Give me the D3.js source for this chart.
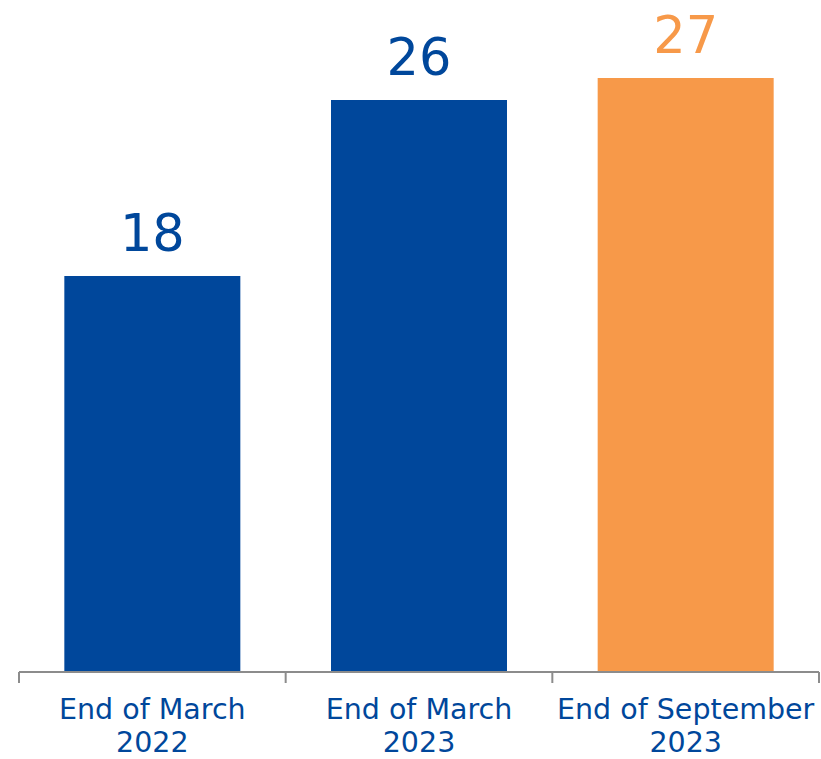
<!DOCTYPE html>
<html>
<head>
<meta charset="utf-8">
<script src="https://cdn.jsdelivr.net/npm/d3@7"></script>
<style>
  body { margin: 0; background: #fff; }
  svg { display: block; }
</style>
</head>
<body>
<svg></svg>
<script>
var categories = ['End of March|2022', 'End of March|2023', 'End of September|2023'];
var values = [18, 26, 27];
var colors = ['#00479b', '#00479b', '#f79949'];

var svgWidth = 821, svgHeight = 759;
var left = 19, right = 819, baseline = 672;
var pxPerUnit = 22.0;

var svg = d3.select('svg')
    .attr('width', svgWidth)
    .attr('height', svgHeight)
    .style('font-family', 'Verdana, "DejaVu Sans", sans-serif');

var x = d3.scaleBand()
    .domain(categories)
    .range([left, right])
    .paddingInner(0.34)
    .paddingOuter(0.17);

var y = d3.scaleLinear()
    .domain([0, 27])
    .range([baseline, baseline - 27 * pxPerUnit]);

svg.selectAll('rect.bar')
    .data(values)
    .enter()
    .append('rect')
    .attr('class', 'bar')
    .attr('x', function(d, i) { return x(categories[i]); })
    .attr('y', function(d) { return y(d); })
    .attr('width', x.bandwidth())
    .attr('height', function(d) { return baseline - y(d); })
    .attr('fill', function(d, i) { return colors[i]; });

svg.selectAll('text.value')
    .data(values)
    .enter()
    .append('text')
    .attr('class', 'value')
    .attr('x', function(d, i) { return x(categories[i]) + x.bandwidth() / 2; })
    .attr('y', function(d) { return y(d) - 25; })
    .attr('text-anchor', 'middle')
    .attr('fill', function(d, i) { return colors[i]; })
    .attr('font-size', '51px')
    .text(function(d) { return d; });

// axis line + ticks at band edges
var step = (right - left) / categories.length;
var axis = svg.append('g').attr('stroke', '#8c8c8c').attr('stroke-width', 2);
axis.append('line')
    .attr('x1', left).attr('x2', right)
    .attr('y1', baseline).attr('y2', baseline);
d3.range(categories.length + 1).forEach(function(i) {
    axis.append('line')
        .attr('x1', left + step * i).attr('x2', left + step * i)
        .attr('y1', baseline).attr('y2', baseline + 11);
});

var labels = svg.selectAll('text.cat')
    .data(categories)
    .enter()
    .append('text')
    .attr('class', 'cat')
    .attr('text-anchor', 'middle')
    .attr('fill', '#00479b')
    .attr('font-size', '28.5px');

labels.each(function(d) {
    var parts = d.split('|');
    var cx = x(d) + x.bandwidth() / 2;
    var t = d3.select(this);
    parts.forEach(function(p, j) {
        t.append('tspan')
            .attr('x', cx)
            .attr('y', 719 + j * 33)
            .text(p);
    });
});
</script>
</body>
</html>
